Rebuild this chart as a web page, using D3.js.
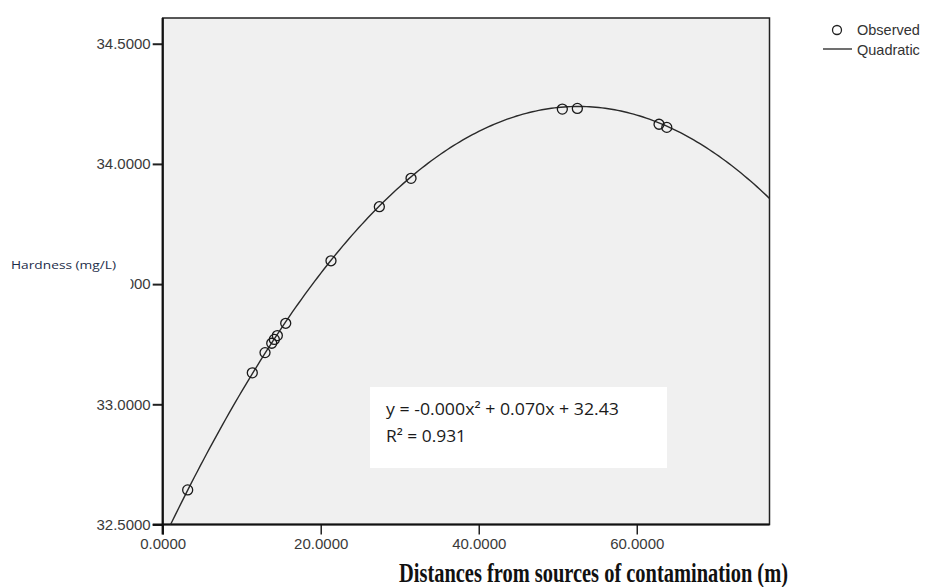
<!DOCTYPE html>
<html>
<head>
<meta charset="utf-8">
<script src="https://cdn.jsdelivr.net/npm/d3@7"></script>
<style>
  html, body { margin: 0; padding: 0; background: #ffffff; }
  svg { display: block; }
</style>
</head>
<body>
<svg id="chart" width="927" height="587"></svg>
<script>
// ---- Data ----
const distance = [3.16, 11.34, 12.95, 13.80, 14.13, 14.51, 15.57, 21.30, 27.42, 31.43, 50.58, 52.48, 62.82, 63.80];
const hardness = [32.644, 33.131, 33.215, 33.254, 33.270, 33.286, 33.337, 33.597, 33.822, 33.940, 34.228, 34.231, 34.165, 34.152];
const xTicks = [0, 20, 40, 60];
const yTicks = [32.5, 33.0, 33.5, 34.0, 34.5];
// quadratic fit coefficients of the drawn curve: y = c + b*x + a*x^2
const fitC = 32.432, fitB = 0.0687, fitA = -0.000653;
const equationLine1 = "y = -0.000x² + 0.070x + 32.43";
const equationLine2 = "R² = 0.931";
const xTitle = "Distances from sources of contamination (m)";
const yTitle = "Hardness (mg/L)";
const legendLabels = ["Observed", "Quadratic"];

// ---- Layout ----
const L = 162.7, R = 769.5, T = 18, B = 524.5;
const svg = d3.select("#chart");

const x = d3.scaleLinear().domain([0, 76.8]).range([L, R]);
const y = d3.scaleLinear().domain([32.5, 34.607]).range([B, T]);

// plot background
svg.append("rect").attr("x", L).attr("y", T).attr("width", R - L).attr("height", B - T)
  .attr("fill", "#f0f0f0").attr("stroke", "#222").attr("stroke-width", 1.5);

// clip
svg.append("clipPath").attr("id", "clip").append("rect")
  .attr("x", L).attr("y", T).attr("width", R - L).attr("height", B - T);

// axes
const yAxis = d3.axisLeft(y).tickValues(yTicks).tickFormat(d3.format(".4f")).tickSize(10).tickPadding(2);
const gy = svg.append("g").attr("transform", `translate(${L},0)`).call(yAxis);
gy.select(".domain").remove();
gy.selectAll(".tick line").attr("stroke", "#222").attr("stroke-width", 2);
gy.selectAll(".tick text").attr("font-family", "Liberation Sans, Arial, sans-serif")
  .attr("font-size", 15).attr("fill", "#3a3a3a");

const xAxis = d3.axisBottom(x).tickValues(xTicks).tickFormat(d3.format(".4f")).tickSize(10).tickPadding(4);
const gx = svg.append("g").attr("transform", `translate(0,${B})`).call(xAxis);
gx.select(".domain").remove();
gx.selectAll(".tick line").attr("stroke", "#222").attr("stroke-width", 1.5);
gx.selectAll(".tick text").attr("font-family", "Liberation Sans, Arial, sans-serif")
  .attr("font-size", 15).attr("fill", "#3a3a3a");

// heavy left and bottom axis lines
svg.append("line").attr("x1", L).attr("x2", L).attr("y1", T).attr("y2", B + 10)
  .attr("stroke", "#111").attr("stroke-width", 2.2);
svg.append("line").attr("x1", L - 10).attr("x2", R).attr("y1", B).attr("y2", B)
  .attr("stroke", "#111").attr("stroke-width", 2.2);

// fitted quadratic curve
const xs = d3.range(0, 76.8 + 0.001, 0.4);
const line = d3.line().x(d => x(d)).y(d => y(fitC + fitB * d + fitA * d * d));
svg.append("path").datum(xs).attr("clip-path", "url(#clip)")
  .attr("d", line).attr("fill", "none").attr("stroke", "#2a2a2a").attr("stroke-width", 1.4);

// observed points
svg.append("g").selectAll("circle").data(distance).join("circle")
  .attr("cx", d => x(d)).attr("cy", (d, i) => y(hardness[i])).attr("r", 5)
  .attr("fill", "none").attr("stroke", "#1a1a1a").attr("stroke-width", 1.3);

// y title with white backing (covers part of a tick label as in the reference)
svg.append("rect").attr("x", 0).attr("y", 245).attr("width", 130.5).attr("height", 60).attr("fill", "#fff");
svg.append("text").attr("x", 11).attr("y", 269).text(yTitle)
  .attr("font-family", "Open Sans, Lato, sans-serif").attr("font-size", 11.5)
  .attr("textLength", 105).attr("lengthAdjust", "spacingAndGlyphs")
  .attr("fill", "#1c2d4a");

// x title
svg.append("text").attr("x", 399).attr("y", 582).text(xTitle)
  .attr("font-family", "Liberation Serif, Times New Roman, serif").attr("font-weight", "bold")
  .attr("font-size", 27.5).attr("textLength", 389).attr("lengthAdjust", "spacingAndGlyphs")
  .attr("fill", "#111");

// equation box
svg.append("rect").attr("x", 370).attr("y", 387).attr("width", 297).attr("height", 81).attr("fill", "#fff");
svg.append("text").attr("x", 386).attr("y", 415).text(equationLine1)
  .attr("font-family", "Open Sans, Lato, sans-serif").attr("font-size", 17)
  .attr("textLength", 233).attr("lengthAdjust", "spacingAndGlyphs").attr("fill", "#1a1a1a");
svg.append("text").attr("x", 386).attr("y", 442).text(equationLine2)
  .attr("font-family", "Open Sans, Lato, sans-serif").attr("font-size", 17)
  .attr("textLength", 80).attr("lengthAdjust", "spacingAndGlyphs").attr("fill", "#1a1a1a");

// legend
const lg = svg.append("g");
lg.append("circle").attr("cx", 837).attr("cy", 30).attr("r", 4.5)
  .attr("fill", "none").attr("stroke", "#222").attr("stroke-width", 1.3);
lg.append("line").attr("x1", 823).attr("x2", 852).attr("y1", 49).attr("y2", 49)
  .attr("stroke", "#333").attr("stroke-width", 1.4);
lg.selectAll("text").data(legendLabels).join("text")
  .attr("x", 857).attr("y", (d, i) => 35 + i * 19.5).text(d => d)
  .attr("font-family", "Liberation Sans, Arial, sans-serif").attr("font-size", 14.5).attr("fill", "#333");
</script>
</body>
</html>
